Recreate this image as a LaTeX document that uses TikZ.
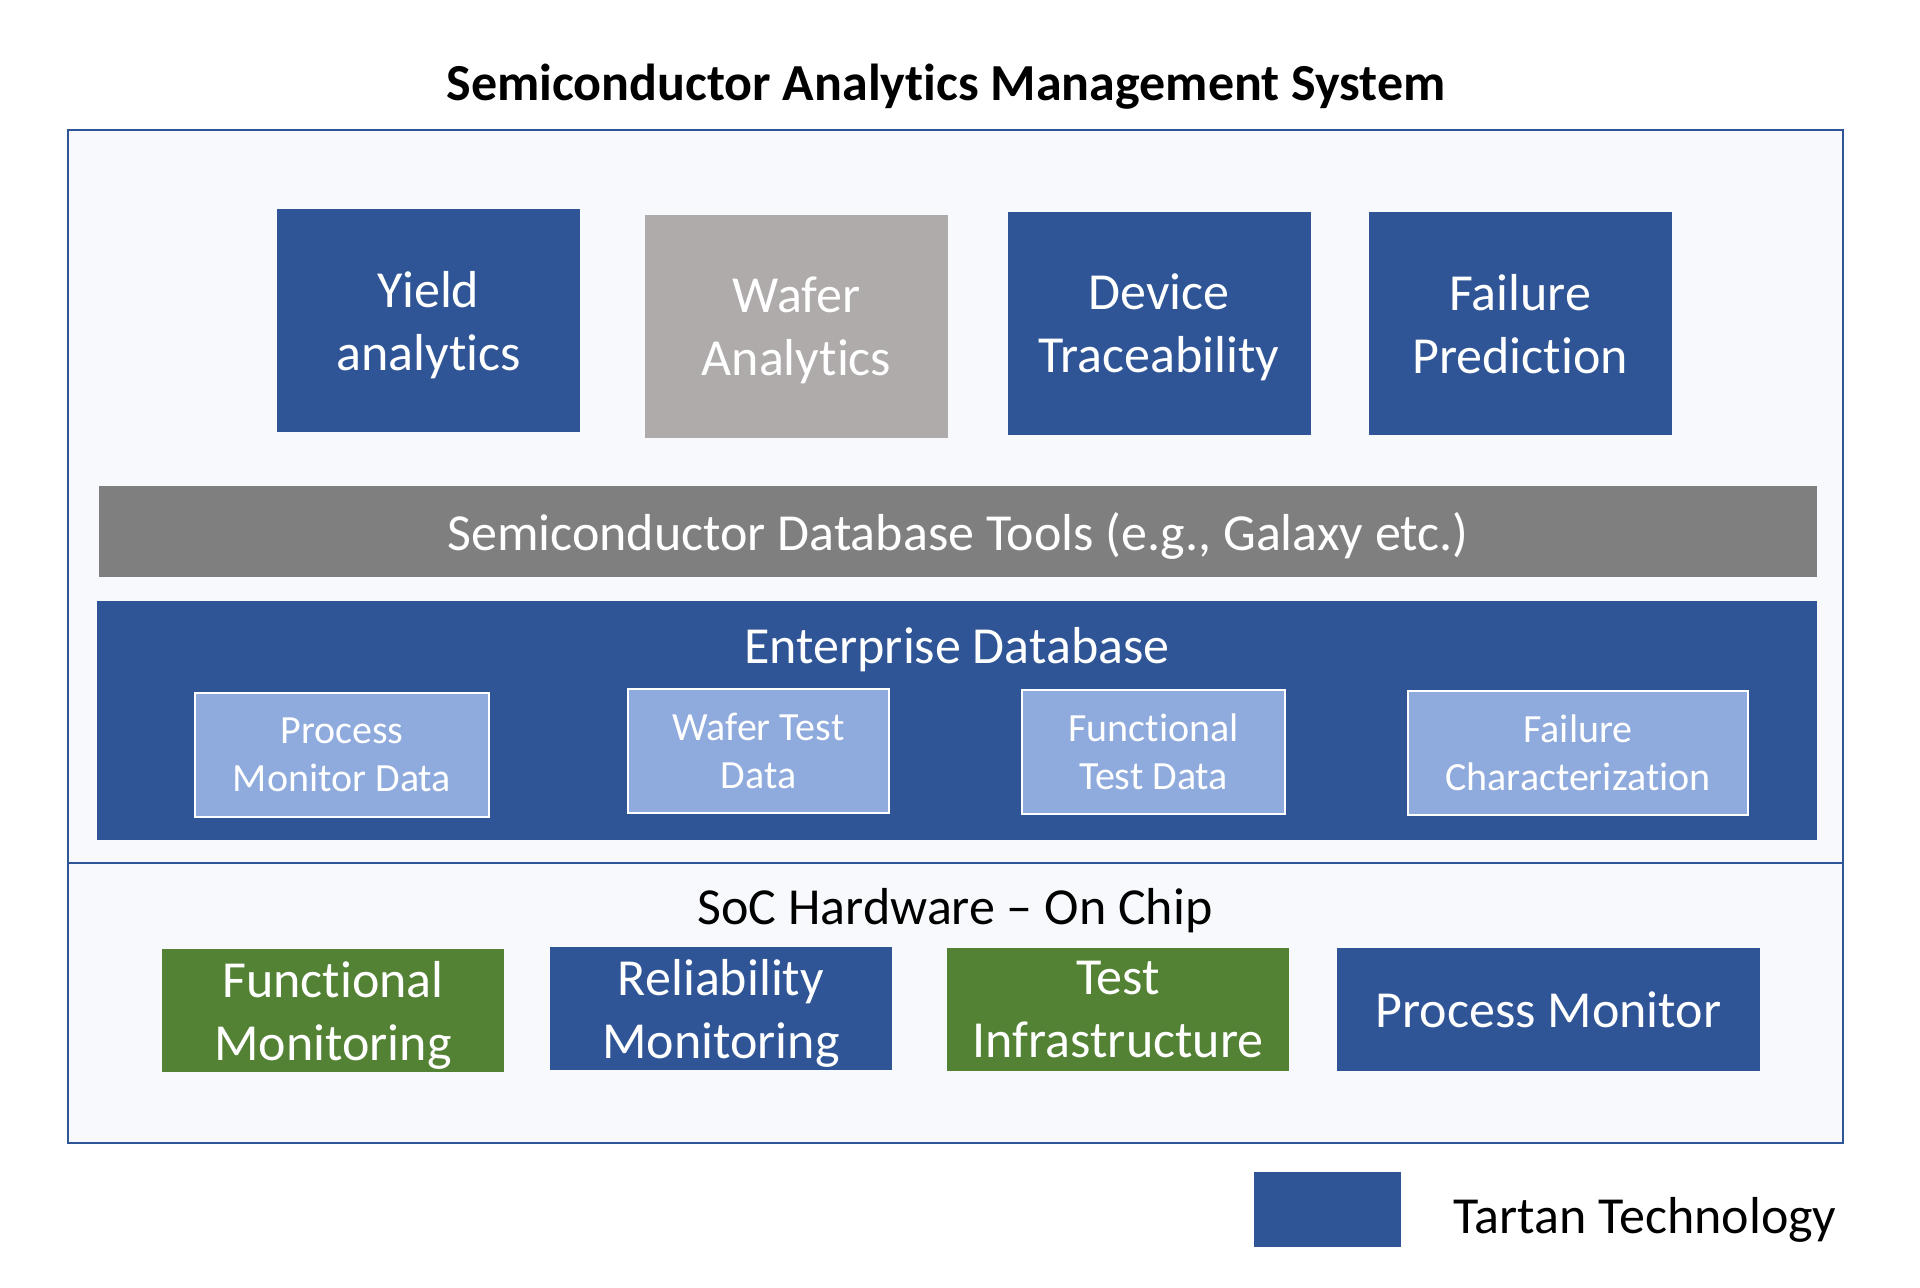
\documentclass[tikz,border=0pt]{standalone}
\usepackage{fontspec}
\setmainfont{Carlito}[Ligatures={TeX,NoCommon}]

\definecolor{tartan}{HTML}{2F5597}
\definecolor{waferg}{HTML}{AEABAA}
\definecolor{toolg}{HTML}{7F7F7F}
\definecolor{datab}{HTML}{8FAADC}
\definecolor{hwgreen}{HTML}{548235}
\definecolor{framebg}{HTML}{F7F9FC}

\begin{document}
\begin{tikzpicture}[x=0.5pt,y=-0.5pt,
  box/.style={rectangle,inner sep=0pt,align=center,text depth=0pt,text=white,font=\fontsize{26}{31.5}\selectfont},
  topbox/.style={box,minimum width=151.5pt,minimum height=111.5pt},
  hwbox/.style={box,minimum width=171pt,minimum height=61.5pt},
  databox/.style={box,fill=datab,draw=white,line width=1pt,minimum height=62pt,font=\fontsize{20}{24}\selectfont},
  plain/.style={inner sep=0pt,text depth=0pt,font=\fontsize{26}{31.5}\selectfont}]
\useasboundingbox (0,0) rectangle (1920,1287);

% frame and divider
\filldraw[fill=framebg,draw=tartan,line width=1pt] (68,130) rectangle (1843,1143);
\draw[tartan,line width=1pt] (68,863) -- (1843,863);

\node[plain,font=\bfseries\fontsize{26}{31.5}\selectfont] (title) at (946,82) {Semiconductor Analytics Management System};

% analytics row
\foreach \nm/\cx/\cy/\col/\txt in {yield/428.5/320.5/tartan/{Yield\\analytics},
    wafer/796.5/326.5/waferg/{Wafer\\Analytics},
    trace/1159/323.5/tartan/{Device\\Traceability},
    predict/1520/323.5/tartan/{Failure\\Prediction}}
  \node[topbox,fill=\col] (\nm) at (\cx,\cy) {\txt};

\node[box,fill=toolg,minimum width=859pt,minimum height=45.5pt] (tools) at (958,531.5) {Semiconductor Database Tools (e.g., Galaxy etc.)};

% enterprise database
\node[box,fill=tartan,minimum width=860pt,minimum height=119.5pt] (entdb) at (957,720.5) {};
\node[box] (entlabel) at (957,645) {Enterprise Database};
\foreach \nm/\cx/\cy/\w/\txt in {pmdata/342/754.5/147/{Process\\Monitor Data},
    wtdata/758.5/751/130.5/{Wafer Test\\Data},
    ftdata/1153.5/751.5/131.5/{Functional\\Test Data},
    fchar/1578/753/170/{Failure\\Characterization}}
  \node[databox,minimum width=\w pt] (\nm) at (\cx,\cy) {\txt};

% on chip
\node[plain] (soc) at (955,906) {SoC Hardware – On Chip};
\foreach \nm/\cx/\cy/\col/\txt in {fmon/333/1010.5/hwgreen/{Functional\\Monitoring},
    rmon/721/1008.5/tartan/{Reliability\\Monitoring},
    tinfra/1118/1009.5/hwgreen/{Test\\Infrastructure}}
  \node[hwbox,fill=\col] (\nm) at (\cx,\cy) {\txt};
\node[hwbox,fill=tartan,minimum width=211.5pt] (pmon) at (1548.5,1009.5) {Process Monitor};

% legend
\node[box,fill=tartan,minimum width=73.5pt,minimum height=37.5pt] (legbox) at (1327.5,1209.5) {};
\node[plain,anchor=base west] (legtext) at (1453,1233) {Tartan Technology};
\end{tikzpicture}
\end{document}
